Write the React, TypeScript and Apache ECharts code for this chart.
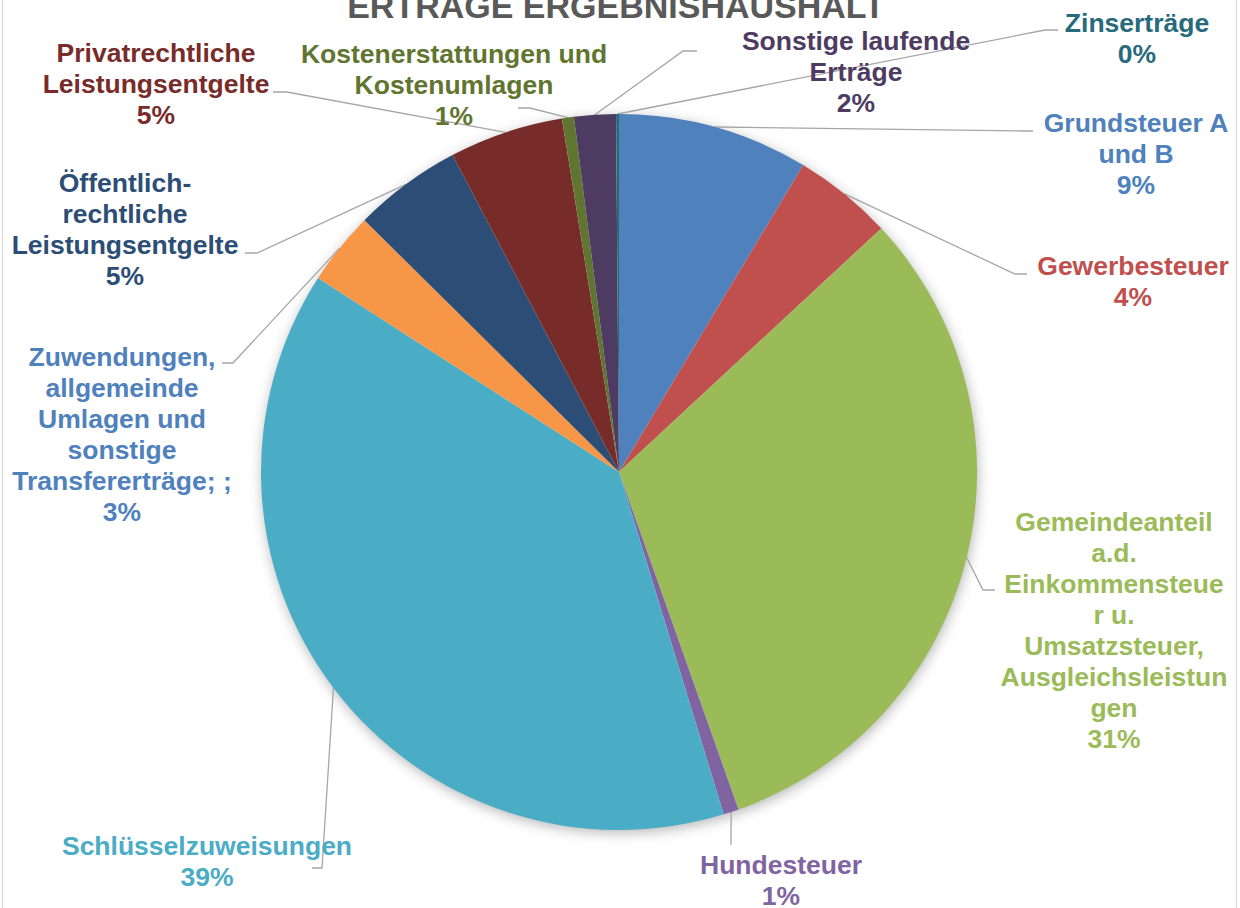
import React, { useEffect, useRef } from "react";
import * as echarts from "echarts";

const categories = [
  "Grundsteuer A\nund B",
  "Gewerbesteuer",
  "Gemeindeanteil\na.d.\nEinkommensteue\nr u.\nUmsatzsteuer,\nAusgleichsleistun\ngen",
  "Hundesteuer",
  "Schlüsselzuweisungen",
  "Zuwendungen,\nallgemeinde\nUmlagen und\nsonstige\nTransfererträge; ;",
  "Öffentlich-\nrechtliche\nLeistungsentgelte",
  "Privatrechtliche\nLeistungsentgelte",
  "Kostenerstattungen und\nKostenumlagen",
  "Sonstige laufende\nErträge",
  "Zinserträge",
];

// share of total (%)
const values = [8.6, 4.49, 31.49, 0.7, 38.83, 3.3, 4.89, 5.15, 0.54, 1.88, 0.13];

const sliceColors = [
  "#4F81BD", "#C0504D", "#9BBB59", "#8064A2", "#4BACC6", "#F79646",
  "#2C4D75", "#772C2A", "#5F7530", "#4D3B62", "#276A7C",
];

const textColors = [
  "#4F81BD", "#C0504D", "#9BBB59", "#8064A2", "#4BACC6", "#4F81BD",
  "#2C4D75", "#772C2A", "#5F7530", "#4D3B62", "#276A7C",
];

// label placement: [centerX, centerY, elbowX, elbowY, stubEndX]
const labelPlacement = [
  [1136, 154, 1020, 131, 1033],
  [1133, 281, 1015, 274, 1027],
  [1114, 630, 983, 590, 995],
  [781, 880, 731, 845, 731],
  [207, 861, 322, 868, 312],
  [122, 434, 233, 363, 222],
  [125, 229, 257, 253, 245],
  [156, 84, 287, 92, 273],
  [454, 85, 530, 108, 518],
  [856, 72, 683, 51, 697],
  [1137, 38, 1045, 30, 1058],
];

const TITLE = "ERTRÄGE ERGEBNISHAUSHALT";
const FONT = "'Liberation Sans', Arial, Helvetica, sans-serif";

export default function App() {
  const ref = useRef<HTMLDivElement>(null);

  useEffect(() => {
    const chart = echarts.init(ref.current!, null, { renderer: "svg" });
    const cx = 619;
    const cy = 472;
    const R = 358;
    const total = values.reduce((a, b) => a + b, 0);
    const edgePoint = (i: number) => {
      let before = 0;
      for (let k = 0; k < i; k++) before += values[k];
      const frac = (before + values[i] / 2) / total;
      const a = frac * Math.PI * 2;
      return [cx + R * Math.sin(a), cy - R * Math.cos(a)];
    };

    chart.setOption({
      animation: false,
      backgroundColor: "#ffffff",
      graphic: [
        {
          type: "rect",
          z: 0,
          shape: { x: 2.5, y: -20, width: 1234, height: 960 },
          style: { fill: "none", stroke: "#D9D9D9", lineWidth: 1.2 },
          silent: true,
        },
        {
          type: "circle",
          z: 0,
          shape: { cx, cy, r: R - 1 },
          style: {
            fill: "#ffffff",
            shadowBlur: 14,
            shadowColor: "rgba(0,0,0,0.32)",
            shadowOffsetX: 1,
            shadowOffsetY: 3,
          },
          silent: true,
        },
        {
          type: "text",
          z: 5,
          style: {
            text: TITLE,
            x: 616,
            y: 6,
            align: "center",
            verticalAlign: "middle",
            fontFamily: FONT,
            fontWeight: "bold",
            fontSize: 34,
            fill: "#595959",
          },
          silent: true,
        },
      ],
      series: [
        {
          type: "pie",
          z: 2,
          center: [cx, cy],
          radius: R,
          startAngle: 90,
          clockwise: true,
          avoidLabelOverlap: false,
          silent: true,
          itemStyle: { borderWidth: 0 },
          emphasis: { disabled: true },
          data: categories.map((name, i) => ({
            name,
            value: values[i],
            itemStyle: { color: sliceColors[i] },
            label: { color: textColors[i] },
          })),
          label: {
            show: true,
            position: "outside",
            formatter: (p: any) => `${p.name}\n${Math.round(p.percent)}%`,
            fontFamily: FONT,
            fontWeight: "bold",
            fontSize: 26.5,
            lineHeight: 31,
            align: "center",
          },
          labelLine: {
            show: true,
            length: 10,
            length2: 10,
            smooth: false,
            lineStyle: { color: "#A6A6A6", width: 1.3 },
          },
          labelLayout: (params: any) => {
            const i = params.dataIndex;
            const L = labelPlacement[i];
            const start =
              params.labelLinePoints && params.labelLinePoints[0]
                ? params.labelLinePoints[0]
                : edgePoint(i);
            return {
              x: L[0],
              y: L[1],
              align: "center",
              verticalAlign: "middle",
              labelLinePoints: [start, [L[2], L[3]], [L[4], L[3]]],
            };
          },
        },
      ],
    });
    return () => chart.dispose();
  }, []);

  return (
    <div
      ref={ref}
      style={{ position: "fixed", left: 0, top: 0, width: 1240, height: 908, background: "#fff" }}
    />
  );
}
